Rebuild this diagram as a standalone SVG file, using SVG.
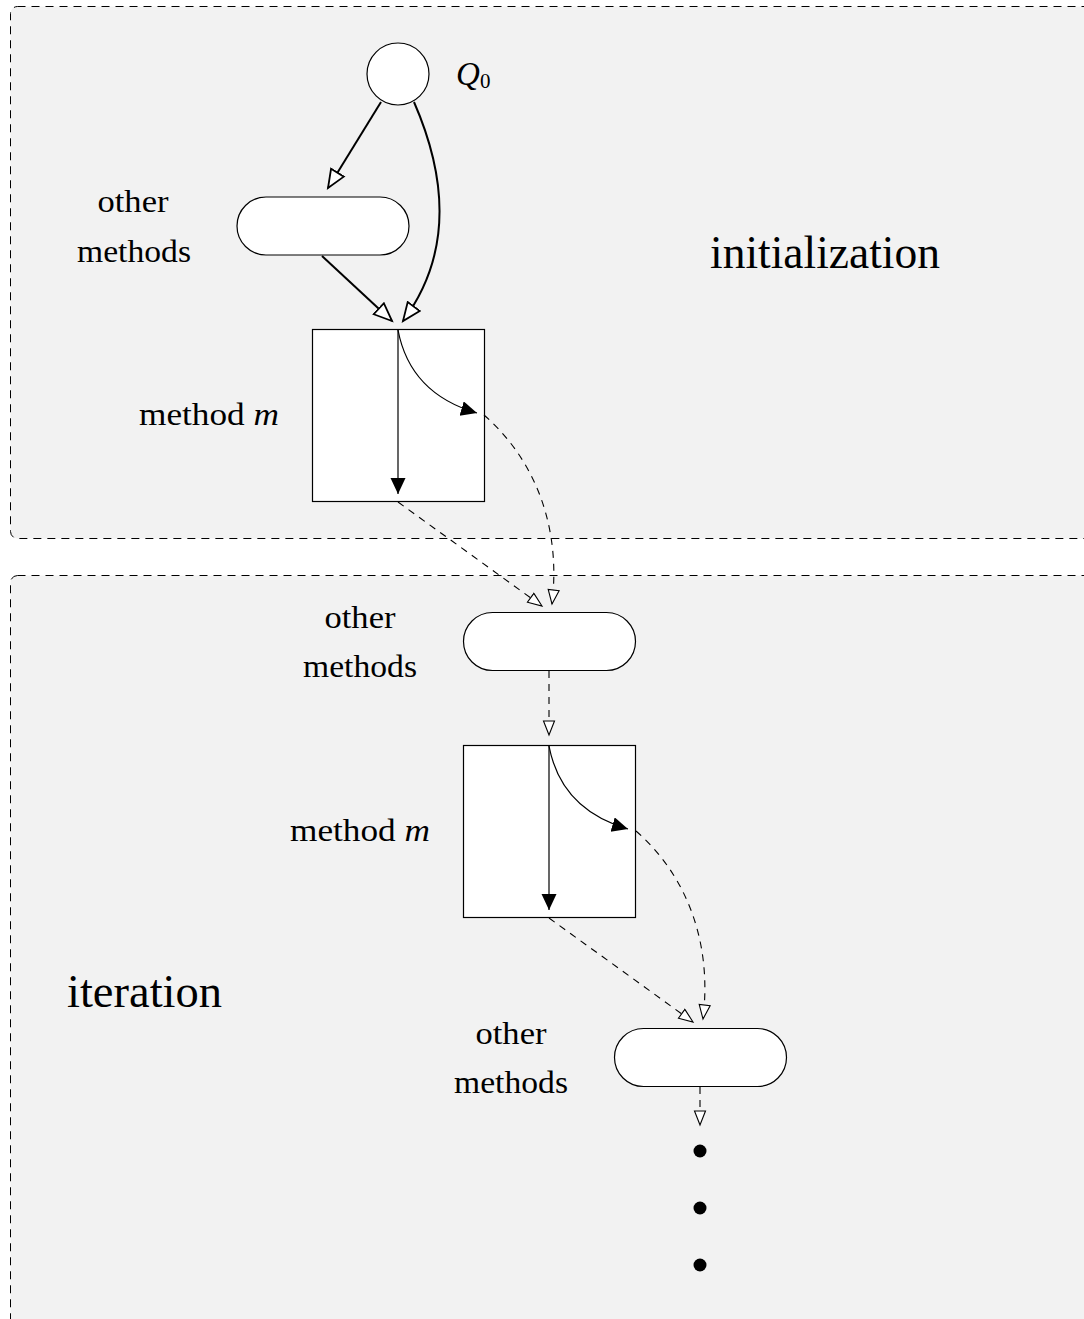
<svg xmlns="http://www.w3.org/2000/svg" width="1084" height="1319" viewBox="0 0 1084 1319">
<defs>
<style>
.region{fill:#f2f2f2;stroke:#000;stroke-width:1;stroke-dasharray:8 6}
.node{fill:#fff;stroke:#000;stroke-width:1.2}
.lbl{font-family:"Liberation Serif","Times New Roman",serif;font-size:31px;fill:#000;text-anchor:middle}
.big{font-family:"Liberation Serif","Times New Roman",serif;font-size:46px;fill:#000}
.thick{fill:none;stroke:#000;stroke-width:2}
.thin{fill:none;stroke:#000;stroke-width:1.2}
.dash{fill:none;stroke:#000;stroke-width:1.1;stroke-dasharray:7 6}
</style>
<marker id="openBig" markerUnits="userSpaceOnUse" markerWidth="22" markerHeight="20" refX="19" refY="9" orient="auto">
<path d="M1,1.5 L19,9 L1,16.5 Z" fill="#fff" stroke="#000" stroke-width="1.8"/>
</marker>
<marker id="openSmall" markerUnits="userSpaceOnUse" markerWidth="18" markerHeight="14" refX="15" refY="6.5" orient="auto">
<path d="M1,1 L15,6.5 L1,12 Z" fill="#fff" stroke="#000" stroke-width="1.1"/>
</marker>
<marker id="filled" markerUnits="userSpaceOnUse" markerWidth="18" markerHeight="16" refX="16" refY="7.5" orient="auto">
<path d="M0,0 L16,7.5 L0,15 Z" fill="#000"/>
</marker>
</defs>

<g id="region-init">
<rect class="region" x="10.5" y="6.5" width="1100" height="532" rx="7"/>
<text class="big" x="710" y="268" textLength="230" lengthAdjust="spacingAndGlyphs">initialization</text>
</g>
<g id="region-iter">
<rect class="region" x="10.5" y="575.5" width="1100" height="800" rx="7"/>
<text class="big" x="67" y="1007" textLength="155" lengthAdjust="spacingAndGlyphs">iteration</text>
</g>

<g id="q0">
<circle class="node" cx="398" cy="74" r="31"/>
<text x="456" y="85" font-family="Liberation Serif,serif" font-style="italic" font-size="33">Q</text>
<text x="480" y="88" font-family="Liberation Serif,serif" font-size="21">0</text>
</g>

<g id="other1">
<rect class="node" x="237" y="197" width="172" height="58" rx="29"/>
<text class="lbl" x="133" y="212" textLength="71" lengthAdjust="spacingAndGlyphs">other</text>
<text class="lbl" x="134" y="262" textLength="114" lengthAdjust="spacingAndGlyphs">methods</text>
</g>

<g id="method1">
<rect class="node" x="312.5" y="329.5" width="172" height="172"/>
<text class="lbl" x="209" y="425" textLength="140" lengthAdjust="spacingAndGlyphs">method <tspan font-style="italic">m</tspan></text>
</g>

<g id="other2">
<rect class="node" x="463.5" y="612.5" width="172" height="58" rx="29"/>
<text class="lbl" x="360" y="628" textLength="71" lengthAdjust="spacingAndGlyphs">other</text>
<text class="lbl" x="360" y="677" textLength="114" lengthAdjust="spacingAndGlyphs">methods</text>
</g>

<g id="method2">
<rect class="node" x="463.5" y="745.5" width="172" height="172"/>
<text class="lbl" x="360" y="841" textLength="140" lengthAdjust="spacingAndGlyphs">method <tspan font-style="italic">m</tspan></text>
</g>

<g id="other3">
<rect class="node" x="614.5" y="1028.5" width="172" height="58" rx="29"/>
<text class="lbl" x="511" y="1044" textLength="71" lengthAdjust="spacingAndGlyphs">other</text>
<text class="lbl" x="511" y="1093" textLength="114" lengthAdjust="spacingAndGlyphs">methods</text>
</g>

<g id="dots">
<circle cx="700" cy="1151" r="6.5" fill="#000"/>
<circle cx="700" cy="1208" r="6.5" fill="#000"/>
<circle cx="700" cy="1265" r="6.5" fill="#000"/>
</g>

<g id="connectors">
<path class="thick" d="M381,102 L328,188" marker-end="url(#openBig)"/>
<path class="thick" d="M322,256 L392,321" marker-end="url(#openBig)"/>
<path class="thick" d="M414,102 C448,180 452,255 403,321" marker-end="url(#openBig)"/>

<path class="thin" d="M398,330 L398,494" marker-end="url(#filled)"/>
<path class="thin" d="M398,330 C406,372 432,400 477,413" marker-end="url(#filled)"/>
<path class="dash" d="M484,415 C530,455 562,520 552,604" marker-end="url(#openSmall)"/>
<path class="dash" d="M398,502 L542,606" marker-end="url(#openSmall)"/>

<path class="dash" d="M549,671 L549,735" marker-end="url(#openSmall)"/>

<path class="thin" d="M549,746 L549,910" marker-end="url(#filled)"/>
<path class="thin" d="M549,746 C557,788 583,816 628,829" marker-end="url(#filled)"/>
<path class="dash" d="M636,831 C682,871 713,936 703,1019" marker-end="url(#openSmall)"/>
<path class="dash" d="M549,918 L693,1022" marker-end="url(#openSmall)"/>

<path class="dash" d="M700,1087 L700,1125" marker-end="url(#openSmall)"/>
</g>
</svg>
